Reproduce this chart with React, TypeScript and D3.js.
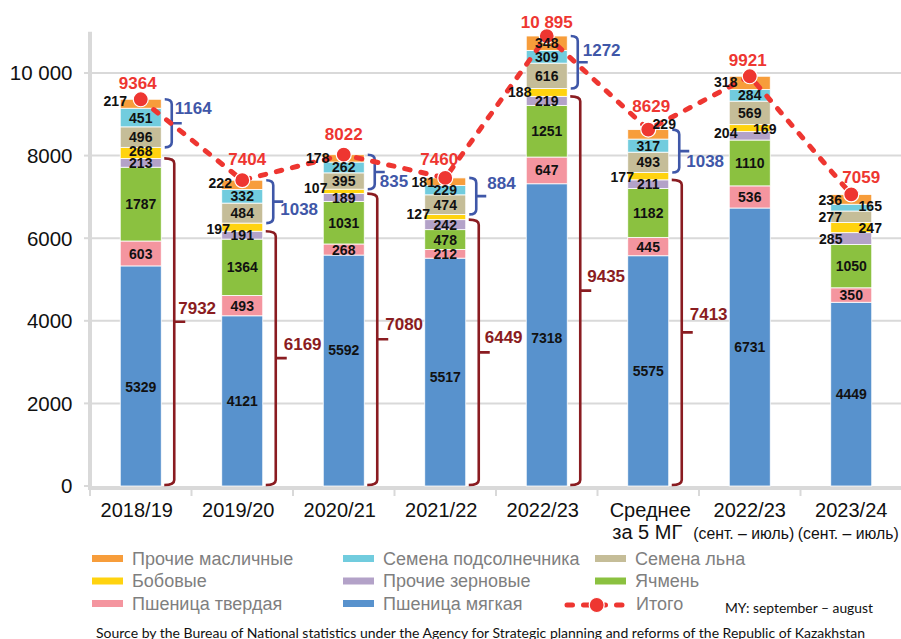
import React from 'react';
import * as d3 from 'd3';

// ---------- data ----------
const categories = [
  "2018/19",
  "2019/20",
  "2020/21",
  "2021/22",
  "2022/23",
  "Среднее\nза 5 МГ",
  "2022/23\n(сент. – июль)",
  "2023/24\n(сент. – июль)",
];
const seriesNames = [
  "Пшеница мягкая",
  "Пшеница твердая",
  "Ячмень",
  "Прочие зерновые",
  "Бобовые",
  "Семена льна",
  "Семена подсолнечника",
  "Прочие масличные",
];
const softWheat = [5329, 4121, 5592, 5517, 7318, 5575, 6731, 4449];
const durumWheat = [603, 493, 268, 212, 647, 445, 536, 350];
const barley = [1787, 1364, 1031, 478, 1251, 1182, 1110, 1050];
const otherGrains = [213, 191, 189, 242, 219, 211, 204, 285];
const pulses = [268, 197, 107, 127, 188, 177, 169, 247];
const flaxseed = [496, 484, 395, 474, 616, 493, 569, 277];
const sunflower = [451, 332, 262, 229, 309, 317, 284, 165];
const otherOilseeds = [217, 222, 178, 181, 348, 229, 318, 236];
const totals = [9364, 7404, 8022, 7460, 10895, 8629, 9921, 7059];
const grainTotals = [7932, 6169, 7080, 6449, 9435, 7413];
const oilseedTotals = [1164, 1038, 835, 884, 1272, 1038];
const yTicks = [0, 2000, 4000, 6000, 8000, 10000];
const totalName = "Итого";
const noteText = "MY: september – august";
const sourceText =
  "Source by the Bureau of National statistics under the Agency for Strategic planning and reforms of the Republic of Kazakhstan";

const seriesValues = [softWheat, durumWheat, barley, otherGrains, pulses, flaxseed, sunflower, otherOilseeds];

// ---------- styles / layout ----------
const seriesColors = ["#5892CD", "#F4959F", "#8BC140", "#B3A2C8", "#FFD30F", "#C5BD98", "#71CCDE", "#F79D3B"];
const RED = "#EE3631";
const GRAIN_BRACE = "#8A1C21";
const OIL_BRACE = "#3F57A8";
const GRID = "#D9D9D9";
const FONT = "'Liberation Sans', Arial, Helvetica, sans-serif";
const NOTE_FONT = "Lato, 'Open Sans', sans-serif";

// label nudges: key `${bar}-${series}` -> [dx from bar centre, dy from segment middle]
const labelNudges: Record<string, [number, number]> = {
  "0-0": [0, 11], "0-4": [0, -2], "0-7": [-25.5, -2.8],
  "1-4": [-24, 2], "1-7": [-22, -1.5],
  "2-0": [0, -21], "2-4": [-28, -3], "2-7": [-26, 0],
  "3-0": [0, 4.5], "3-4": [-27, -3], "3-7": [-22, 0],
  "4-0": [0, 3], "4-4": [-27, 0],
  "5-4": [-26, 1], "5-7": [16, -10],
  "6-3": [-24, -2.5], "6-4": [15, 1], "6-7": [-24, -1],
  "7-3": [-20.5, 0], "7-4": [19, 0], "7-5": [-21, 0], "7-6": [19, -1.5], "7-7": [-21, 1],
};
const totalLabelDx = [-3, 5, 0, -6, 0, 3, -2, 10];
const totalLabelDy = [-16, -21, -21, -19, -14, -24, -16, -18];
const grainLabelDx = [4, 8, 8, 6, 7, 8];
const grainLabelDy = [-14, -14.5, -15, -15.5, -14.5, -19];
const oilLabelDx = [3, 7, 5, 11, 5, 7];
const oilLabelDy = [-15.5, 7.5, 8.5, -13.5, -12, 10];
const xLabelDx = [-4, -4, -4, -4, -4, 2, 0, 0];
const xLabel2Dx = [0, 0, 0, 0, 0, -1, -6, -3];

const spaceFmt = d3.formatLocale({ decimal: ",", thousands: " ", grouping: [3], currency: ["", ""] }).format(",");
const fmt = (v: number) => (v >= 10000 ? spaceFmt(v) : String(v));

function bracePath(xb: number, yTop: number, yBot: number, hook: number, tick: number) {
  const ym = (yTop + yBot) / 2;
  const r = Math.min(5, (yBot - yTop) / 5);
  return (
    `M${xb - hook},${yTop} Q${xb},${yTop} ${xb},${yTop + r} ` +
    `L${xb},${yBot - r} Q${xb},${yBot} ${xb - hook},${yBot} ` +
    `M${xb},${ym} L${xb + tick},${ym}`
  );
}

export default function App() {
  const W = 901;
  const H = 639;
  const idx = d3.range(categories.length);
  const x = d3.scaleBand<number>().domain(idx).range([90, 902]).paddingInner(0.596).paddingOuter(0.298);
  const y = d3.scaleLinear().domain([0, 11000]).range([486, 31.7]);
  const bw = x.bandwidth();
  const cx = (i: number) => (x(i) as number) + bw / 2;

  const rows = idx.map((i) => {
    const r: Record<string, number> = {};
    seriesNames.forEach((s, k) => (r[s] = seriesValues[k][i]));
    return r;
  });
  const stacked = d3.stack<Record<string, number>>().keys(seriesNames)(rows);

  const line = d3
    .line<number>()
    .x((_, i) => cx(i))
    .y((d) => y(d));

  const legendItems = [7, 6, 5, 4, 3, 2, 1, 0, -1];
  const legendColX = [92, 343, 595];
  const legendRowY = [558.5, 581, 603.5];

  return (
    <svg width={W} height={H} style={{ position: 'absolute', left: 0, top: 0, background: '#fff' }} fontFamily={FONT}>
      {/* gridlines */}
      {yTicks.filter((t) => t > 0).map((t) => (
        <line key={t} x1={90} x2={901} y1={y(t)} y2={y(t)} stroke={GRID} strokeWidth={2} />
      ))}
      {/* y axis */}
      <line x1={90} x2={90} y1={31.7} y2={490} stroke={GRID} strokeWidth={4} />
      {yTicks.map((t) => (
        <g key={t}>
          <line x1={84} x2={90} y1={y(t)} y2={y(t)} stroke={GRID} strokeWidth={2} />
          <text x={72.5} y={y(t)} dy="0.36em" textAnchor="end" fontSize={20.5} fill="#111">
            {fmt(t)}
          </text>
        </g>
      ))}
      {/* x axis */}
      <line x1={88} x2={901} y1={488} y2={488} stroke={GRID} strokeWidth={4} />
      {d3.range(categories.length + 1).map((k) => (
        <line key={k} x1={90 + x.step() * k} x2={90 + x.step() * k} y1={488} y2={496} stroke={GRID} strokeWidth={2} />
      ))}
      {categories.map((c, i) => {
        const lines = c.split("\n");
        return (
          <g key={i}>
            <text x={cx(i) + xLabelDx[i]} y={516.5} textAnchor="middle" fontSize={20} fill="#111">
              {lines[0]}
            </text>
            {lines[1] && (
              lines[1].startsWith("(") ? (
                <text x={cx(i) + xLabel2Dx[i]} y={538.5} textAnchor="middle" fontSize={17} fill="#111"
                  textLength={101} lengthAdjust="spacingAndGlyphs">
                  {lines[1]}
                </text>
              ) : (
                <text x={cx(i) + xLabel2Dx[i]} y={538.5} textAnchor="middle" fontSize={20} fill="#111">
                  {lines[1]}
                </text>
              )
            )}
          </g>
        );
      })}

      {/* stacked bars */}
      {stacked.map((layer, k) => (
        <g key={k}>
          {layer.map((d, i) => (
            <rect
              key={i}
              x={x(i)}
              width={bw}
              y={y(d[1])}
              height={y(d[0]) - y(d[1])}
              fill={seriesColors[k]}
              stroke="#fff"
              strokeWidth={0.8}
            />
          ))}
        </g>
      ))}

      {/* braces */}
      {grainTotals.map((g, i) => {
        const xb = (x(i) as number) + bw + 13;
        const yTop = y(g);
        const yBot = y(0) - 1;
        const ym = (yTop + yBot) / 2;
        return (
          <g key={"g" + i}>
            <path d={bracePath(xb, yTop, yBot, 10, 11)} fill="none" stroke={GRAIN_BRACE} strokeWidth={2.6} />
            <text x={xb + grainLabelDx[i]} y={ym + grainLabelDy[i]} dy="0.36em" fontSize={17} fontWeight="bold" fill={GRAIN_BRACE}>
              {g}
            </text>
          </g>
        );
      })}
      {oilseedTotals.map((o, i) => {
        const xb = (x(i) as number) + bw + 10.5;
        const yTop = y(stacked[7][i][1]);
        const yBot = y(stacked[4][i][1]);
        const ym = (yTop + yBot) / 2;
        return (
          <g key={"o" + i}>
            <path d={bracePath(xb, yTop, yBot, 7, 10)} fill="none" stroke={OIL_BRACE} strokeWidth={2.6} />
            <text x={xb + oilLabelDx[i]} y={ym + oilLabelDy[i]} dy="0.36em" fontSize={17} fontWeight="bold" fill={OIL_BRACE}>
              {o}
            </text>
          </g>
        );
      })}

      {/* total line */}
      <path d={line(totals) || ""} fill="none" stroke={RED} strokeWidth={5} strokeDasharray="5.5 11" strokeLinecap="round" />
      {totals.map((t, i) => (
        <circle key={i} cx={cx(i)} cy={y(t)} r={7.5} fill={RED} stroke="#fff" strokeWidth={1.2} />
      ))}
      {totals.map((t, i) => (
        <text key={i} x={cx(i) + totalLabelDx[i]} y={y(t) + totalLabelDy[i]} dy="0.36em" textAnchor="middle"
          fontSize={17} fontWeight="bold" fill={RED}>
          {fmt(t)}
        </text>
      ))}

      {/* segment labels */}
      {stacked.map((layer, k) => (
        <g key={"l" + k}>
          {layer.map((d, i) => {
            const nudge = labelNudges[`${i}-${k}`] || [0, 0];
            const mid = (y(d[0]) + y(d[1])) / 2;
            return (
              <text key={i} x={cx(i) + nudge[0]} y={mid + nudge[1]} dy="0.36em" textAnchor="middle"
                fontSize={14} fontWeight="bold" fill="#111">
                {seriesValues[k][i]}
              </text>
            );
          })}
        </g>
      ))}

      {/* legend */}
      {legendItems.map((s, n) => {
        const col = n % 3;
        const row = Math.floor(n / 3);
        const lx = legendColX[col];
        const ly = legendRowY[row];
        if (s < 0) {
          return (
            <g key="tot">
              <line x1={567} x2={622} y1={ly + 1.5} y2={ly + 1.5} stroke={RED} strokeWidth={5} strokeDasharray="5.5 11" strokeLinecap="round" />
              <circle cx={596.7} cy={ly + 1.5} r={7.5} fill={RED} stroke="#fff" strokeWidth={1.2} />
              <text x={636} y={ly} dy="0.36em" fontSize={18} fill="#7F7F7F">{totalName}</text>
            </g>
          );
        }
        return (
          <g key={s}>
            <rect x={lx} y={ly - 3.5} width={31} height={7} fill={seriesColors[s]} />
            <text x={lx + 40} y={ly} dy="0.36em" fontSize={18} fill="#7F7F7F">{seriesNames[s]}</text>
          </g>
        );
      })}
      <text x={725} y={607.5} dy="0.36em" fontSize={14} fill="#111" fontFamily={NOTE_FONT}
        textLength={148} lengthAdjust="spacingAndGlyphs">
        {noteText}
      </text>
      <text x={96} y={632.5} dy="0.36em" fontSize={14} fill="#111" fontFamily={NOTE_FONT}
        textLength={769} lengthAdjust="spacingAndGlyphs">
        {sourceText}
      </text>
    </svg>
  );
}
